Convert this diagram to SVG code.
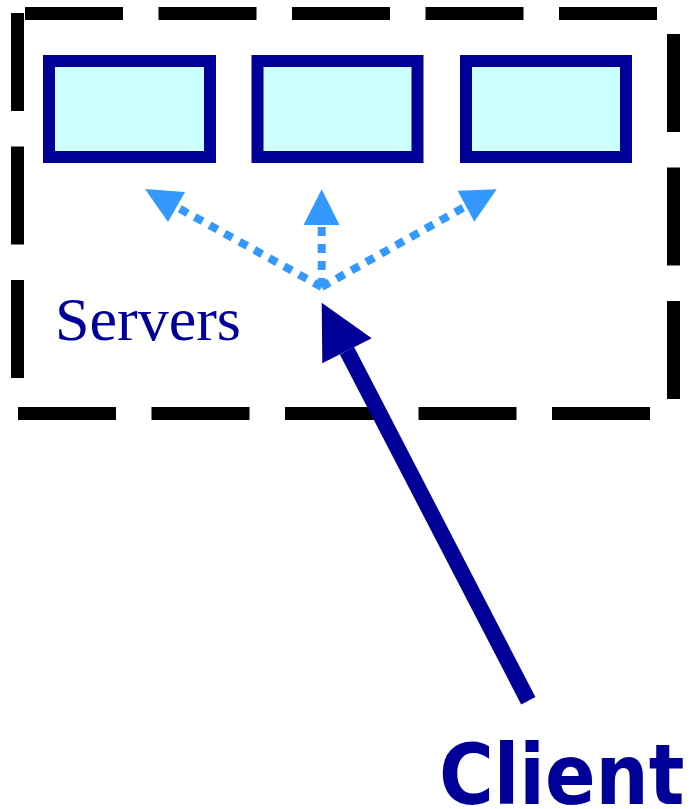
<svg xmlns="http://www.w3.org/2000/svg" width="691" height="809" viewBox="0 0 691 809">
<style>
.server{fill:#CCFFFF;stroke:#000099;stroke-width:12}
.border{stroke:#000;stroke-width:13;stroke-dasharray:98 35.5;fill:none}
.dot{stroke:#3399FF;stroke-width:8;stroke-dasharray:9 8;fill:none}
.head{fill:#3399FF}
</style>
<rect width="691" height="809" fill="#fff"/>
<g id="servers-group">
<line class="border" x1="25" y1="13.5" x2="660" y2="13.5"/>
<line class="border" x1="673.5" y1="34" x2="673.5" y2="400"/>
<line class="border" x1="18" y1="413.5" x2="655" y2="413.5"/>
<line class="border" x1="17.5" y1="13" x2="17.5" y2="380"/>
<text x="55" y="340" font-family="Liberation Serif, serif" font-size="62" fill="#000099">Servers</text>
</g>
<g id="server1"><rect class="server" x="49" y="61" width="161" height="96"/></g>
<g id="server2"><rect class="server" x="257.5" y="61" width="160" height="96"/></g>
<g id="server3"><rect class="server" x="466" y="61" width="160" height="96"/></g>
<g id="client">
<text x="439" y="804" font-family="DejaVu Sans Condensed, DejaVu Sans, sans-serif" font-stretch="condensed" font-weight="bold" font-size="83" fill="#000099">Client</text>
</g>
<g id="connectors">
<line class="dot" x1="321.7" y1="287" x2="176.5" y2="207"/>
<polygon class="head" points="145,189 185,192 168,222"/>
<line class="dot" x1="321.7" y1="287" x2="321.7" y2="225"/>
<polygon class="head" points="321.7,189.3 339.5,225 303.5,225"/>
<line class="dot" x1="321.7" y1="287" x2="466" y2="206.2"/>
<polygon class="head" points="496.7,189.3 457.7,190.7 474.3,221.7"/>
<line x1="528.3" y1="700.7" x2="347" y2="350.8" stroke="#000099" stroke-width="16"/>
<polygon points="321.7,302.7 371.7,338.3 322.3,363.3" fill="#000099"/>
</g>
</svg>
